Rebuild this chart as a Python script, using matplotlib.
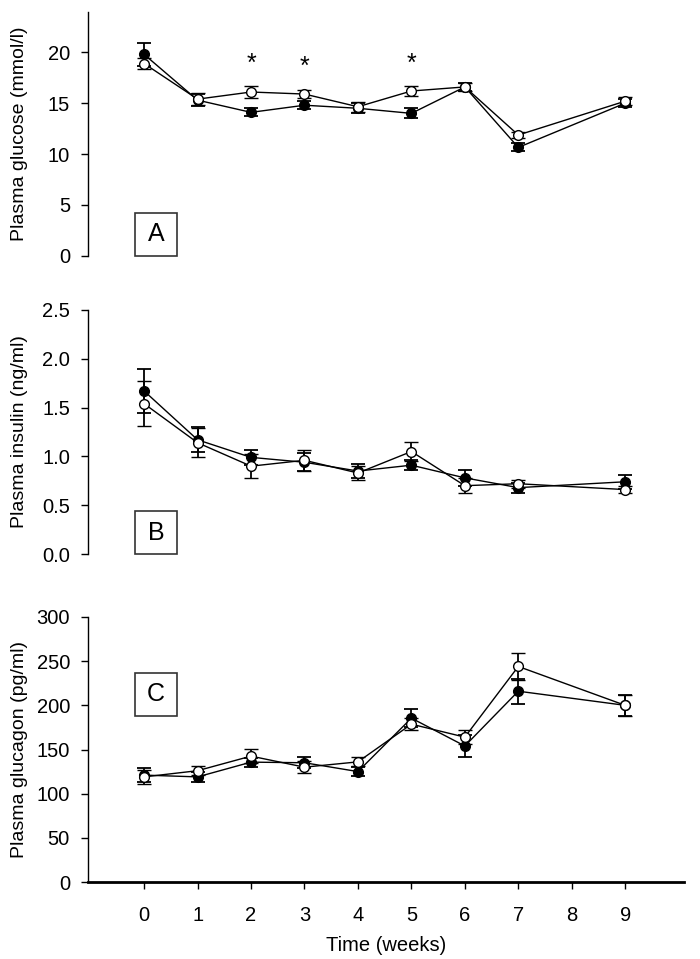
import matplotlib
matplotlib.use("Agg")
import matplotlib.pyplot as plt
import numpy as np

plt.rcParams['font.family'] = ['Liberation Sans', 'DejaVu Sans']

weeks = [0, 1, 2, 3, 4, 5, 6, 7, 9]
xticks = [0, 1, 2, 3, 4, 5, 6, 7, 8, 9]

# Panel A: plasma glucose (mmol/l)
glu_filled = [19.8, 15.3, 14.1, 14.8, 14.5, 14.0, 16.6, 10.65, 15.0]
glu_filled_err = [1.1, 0.6, 0.4, 0.4, 0.5, 0.5, 0.4, 0.4, 0.4]
glu_open = [18.9, 15.4, 16.1, 15.9, 14.65, 16.2, 16.6, 11.87, 15.2]
glu_open_err = [0.5, 0.6, 0.6, 0.4, 0.5, 0.5, 0.4, 0.3, 0.4]
star_weeks = [2, 3, 5]
star_y = [18.9, 18.6, 18.9]

# Panel B: plasma insulin (ng/ml)
ins_filled = [1.67, 1.17, 0.99, 0.94, 0.85, 0.91, 0.78, 0.68, 0.74]
ins_filled_err = [0.23, 0.13, 0.08, 0.09, 0.07, 0.05, 0.08, 0.05, 0.07]
ins_open = [1.54, 1.14, 0.90, 0.96, 0.83, 1.05, 0.70, 0.72, 0.66]
ins_open_err = [0.23, 0.15, 0.12, 0.11, 0.07, 0.10, 0.08, 0.04, 0.04]

# Panel C: plasma glucagon (pg/ml)
gcg_filled = [121, 119, 135.7, 135, 125, 185.5, 154, 216, 200]
gcg_filled_err = [8, 6, 5, 6, 5, 10, 12, 14, 12]
gcg_open = [119, 126, 142.5, 130, 136, 178.7, 164, 244, 200]
gcg_open_err = [8, 5, 8, 7, 5, 7, 8, 15, 12]

W, H = 700, 959
fig = plt.figure(figsize=(W / 100, H / 100), dpi=100)

left = 88 / W
right = 684 / W
xlim = (-1.05, 10.1)

def frac(y_top, y_bot):
    return 1 - y_bot / H, (y_bot - y_top) / H

panels = [
    dict(top=11.7, bot=255.7, ylim=(0, 24), yticks=[0, 5, 10, 15, 20], fmt="{:.0f}",
         ylabel="Plasma glucose (mmol/l)", f=glu_filled, fe=glu_filled_err,
         o=glu_open, oe=glu_open_err, label="A", box=(0, 0, 43)),
    dict(top=310, bot=554, ylim=(0, 2.5), yticks=[0, 0.5, 1.0, 1.5, 2.0, 2.5], fmt="{:.1f}",
         ylabel="Plasma insulin (ng/ml)", f=ins_filled, fe=ins_filled_err,
         o=ins_open, oe=ins_open_err, label="B", box=(0, 0, 43)),
    dict(top=617, bot=882, ylim=(0, 300), yticks=[0, 50, 100, 150, 200, 250, 300], fmt="{:.0f}",
         ylabel="Plasma glucagon (pg/ml)", f=gcg_filled, fe=gcg_filled_err,
         o=gcg_open, oe=gcg_open_err, label="C", box=(0, 188, 43)),
]

axes = []
for i, p in enumerate(panels):
    b, h = frac(p['top'], p['bot'])
    ax = fig.add_axes([left, b, right - left, h])
    axes.append(ax)
    ax.set_xlim(*xlim)
    ax.set_ylim(*p['ylim'])
    for s in ['top', 'right']:
        ax.spines[s].set_visible(False)
    ax.spines['left'].set_linewidth(1.0)
    ax.set_yticks(p['yticks'])
    ax.set_yticklabels([p['fmt'].format(v) for v in p['yticks']], fontsize=14.5)
    ax.tick_params(axis='y', direction='out', length=5, width=1, pad=8)
    ax.set_ylabel(p['ylabel'], fontsize=14, labelpad=6)
    if i < 2:
        ax.spines['bottom'].set_visible(False)
        ax.set_xticks([])
    else:
        ax.spines['bottom'].set_linewidth(2.0)
        ax.set_xticks(xticks)
        ax.set_xticklabels([str(v) for v in xticks], fontsize=14.5)
        ax.tick_params(axis='x', direction='out', length=5, width=1, pad=12)
        ax.set_xlabel("Time (weeks)", fontsize=14.5, labelpad=8)

    ax.errorbar(weeks, p['f'], yerr=p['fe'], fmt='-o', color='black', mfc='black',
                mec='black', ms=7, lw=1.0, elinewidth=1.3, capsize=5, capthick=1.3, zorder=3)
    ax.errorbar(weeks, p['o'], yerr=p['oe'], fmt='-o', color='black', mfc='white',
                mec='black', ms=7, mew=1.0, lw=1.0, elinewidth=1.3, capsize=5, capthick=1.3, zorder=4)

    ax.yaxis.set_label_coords(-0.1, 0.5)

# Panel label boxes
for ax, p in zip(axes, panels):
    x0_data = -0.17
    y0 = p['box'][1]
    disp0 = ax.transData.transform((x0_data, y0))
    x0f, y0f = fig.transFigure.inverted().transform(disp0)
    wf, hf = 42 / W, 43 / H
    rect = plt.Rectangle((x0f, y0f), wf, hf, transform=fig.transFigure,
                         fill=False, edgecolor='#333333', lw=1.2, zorder=5)
    fig.add_artist(rect)
    fig.text(x0f + wf / 2, y0f + hf / 2, p['label'], fontsize=18,
             ha='center', va='center')

for xw, ys in zip(star_weeks, star_y):
    axes[0].text(xw, ys, "*", fontsize=18, ha='center', va='center')

fig.savefig("out.png", dpi=100)
